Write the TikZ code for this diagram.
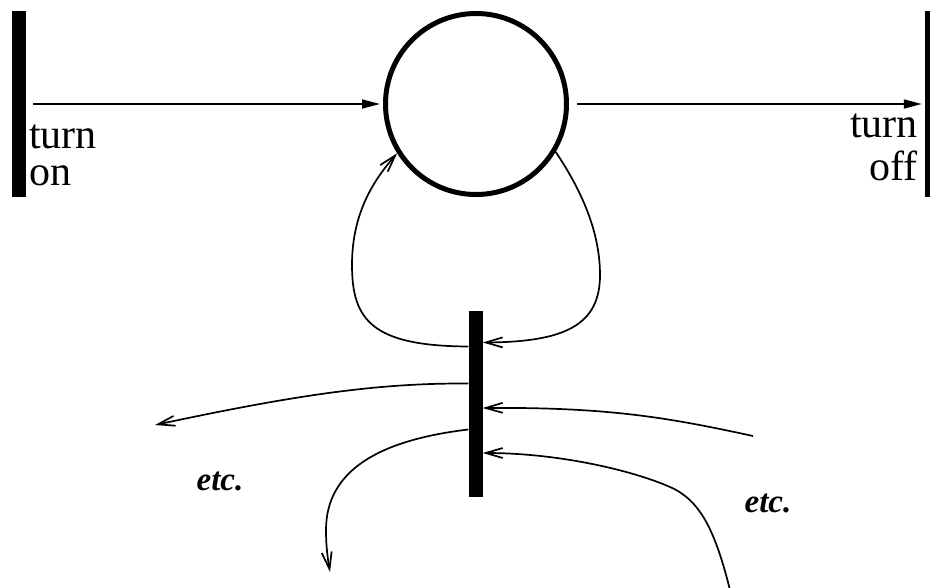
\documentclass[tikz,border=0pt]{standalone}
\usepackage{fontspec}
\setmainfont{Liberation Serif}
\usetikzlibrary{arrows.meta,positioning}

\begin{document}
\begin{tikzpicture}[x=1pt,y=-1pt,
  bar/.style={fill=black,inner sep=0pt,minimum width=14pt,minimum height=186pt},
  place/.style={draw,circle,line width=5pt,inner sep=0pt,minimum size=181pt},
  fat/.style={-{Triangle[length=18pt,width=9pt]},line width=1.7pt},
  arc/.style={-{Straight Barb[length=17pt,width=10pt]},line width=1.7pt},
  lbl/.style={inner sep=0pt,font=\fontsize{42}{37}\selectfont},
  etc/.style={inner sep=0pt,font=\fontsize{33}{33}\selectfont\bfseries\itshape}]
\useasboundingbox (0,0) rectangle (930,587);
% places and transitions
\node[bar] (ton) at (19,104) {};
\node[bar] (toff) at (932,104) {};
\node[place] (p) at (476,104) {};
\node[bar] (t) at (475.5,403.5) {};
\node[lbl,align=left,anchor=base west] (lon) at (29,185) {turn\\on};
\node[lbl,align=right,anchor=base east,font=\fontsize{42}{43}\selectfont] (loff) at (918,180) {turn\\off};
\node[etc,anchor=base] (etc1) at (220,490) {etc.};
\node[etc,anchor=base] (etc2) at (768,512) {etc.};
% loose ends
\coordinate (e1) at (155,425);
\coordinate (e2) at (330,572);
\coordinate (e3) at (753,436);
\coordinate (e4) at (730,590);
% arcs
\draw[fat] ([xshift=7pt]ton.east) -- ([xshift=-3pt]p.west);
\draw[fat] ([xshift=8pt]p.east) -- ([xshift=-3pt]toff.west);
\draw[arc] ([yshift=57pt]t.west) .. controls (372,346) and (352,320) .. (352,265)
  .. controls (352,215) and (372,182) .. (p.212);
\draw[arc] (p.-31) .. controls (588,200) and (600,240) .. (600,275)
  .. controls (600,325) and (565,342) .. ([yshift=61pt]t.east);
\draw[arc] ([yshift=20pt]t.west) .. controls (380,383) and (300,394) .. (e1);
\draw[arc] ([yshift=-26pt]t.west) .. controls (380,440) and (326,470) .. (326,530)
  .. controls (326,548) and (328,560) .. (e2);
\draw[arc] (e3) .. controls (670,418) and (610,407) .. ([yshift=-4.5pt]t.east);
\draw[arc] (e4) .. controls (715,530) and (700,500) .. (670,487)
  .. controls (634,471) and (560,453) .. ([yshift=-49.5pt]t.east);
\end{tikzpicture}
\end{document}
